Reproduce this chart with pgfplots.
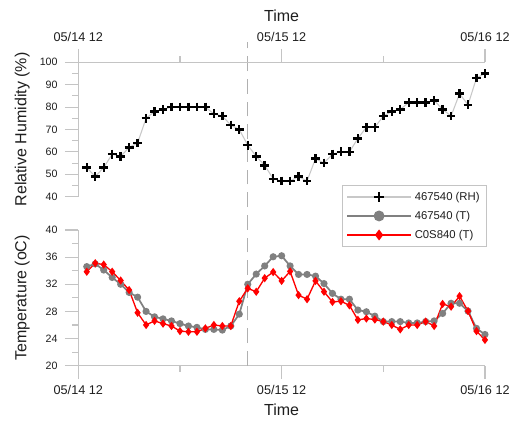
\documentclass[border=0pt]{standalone}
\usepackage{pgfplots}
\pgfplotsset{compat=1.18}
\usepackage{pgfplotstable}
\usepackage{fontspec}
\setmainfont{Liberation Sans}
\definecolor{axgray}{HTML}{C4C4C4}
\definecolor{rhline}{HTML}{C8C8C8}
\definecolor{tgray}{HTML}{808080}
\definecolor{txt}{HTML}{1E1E1E}

\pgfplotstableread{
h rh
1 53
2 49
3 53
4 59
5 58
6 62
7 64
8 75
9 78
10 79
11 80
12 80
13 80
14 80
15 80
16 77
17 76
18 72
19 70
20 63
21 58
22 54
23 48
24 47
25 47
26 49
27 47
28 57
29 55
30 59
31 60
32 60
33 66
34 71
35 71
36 76
37 78
38 79
39 82
40 82
41 82
42 83
43 79
44 76
45 86
46 81
47 93
48 95
}\rhdata

\pgfplotstableread{
h t
1 34.6
2 35.0
3 34.1
4 33.0
5 32.0
6 30.8
7 30.1
8 28.0
9 27.2
10 26.9
11 26.6
12 26.2
13 25.85
14 25.65
15 25.35
16 25.35
17 25.25
18 25.85
19 27.6
20 32.0
21 33.5
22 34.7
23 36.05
24 36.2
25 34.7
26 33.45
27 33.45
28 33.2
29 32.1
30 30.65
31 29.8
32 29.8
33 28.2
34 27.95
35 27.3
36 26.5
37 26.5
38 26.5
39 26.3
40 26.3
41 26.5
42 26.6
43 27.7
44 29.2
45 29.2
46 28.05
47 25.5
48 24.6
}\graydata

\pgfplotstableread{
h t
1 33.85
2 35.1
3 34.9
4 33.85
5 32.55
6 31.15
7 27.8
8 26.0
9 26.6
10 26.2
11 25.85
12 25.1
13 25.0
14 25.0
15 25.5
16 26.0
17 25.85
18 25.85
19 29.5
20 31.4
21 30.9
22 32.9
23 33.8
24 32.5
25 33.9
26 30.4
27 29.8
28 32.5
29 30.9
30 29.4
31 29.5
32 28.9
33 26.75
34 26.95
35 26.8
36 26.5
37 26.0
38 25.35
39 26.0
40 26.0
41 26.5
42 25.85
43 29.1
44 28.7
45 30.25
46 28.05
47 25.1
48 23.8
}\reddata

\pgfplotsset{
  common/.style={
    scale only axis,
    width=305pt,
    xmin=0, xmax=48,
    xtick={0,24,48},
    xticklabels={05/14 12,05/15 12,05/16 12},
    minor xtick={12,36},
    tick align=outside,
    major tick length=10pt,
    minor tick length=4.5pt,
    every tick/.style={axgray, line width=0.8pt},
    axis line style={axgray, line width=0.8pt},
    tick label style={text=txt},
    xticklabel style={font=\fontsize{9.5}{11}\selectfont},
    yticklabel style={font=\fontsize{8}{10}\selectfont, xshift=-2pt},
    label style={font=\fontsize{12}{14}\selectfont, text=txt},
    /pgf/number format/assume math mode=true,
    clip=false,
  },
}

\begin{document}
\begin{tikzpicture}
\path[use as bounding box] (0,0) rectangle (392.25pt,315.75pt);

% bottom: temperature
\begin{axis}[common,
  at={(58.725pt,41.475pt)}, anchor=south west,
  height=101.8pt,
  axis x line*=bottom, axis y line*=left,
  xticklabel style={yshift=-1.5pt},
  ymin=20, ymax=40,
  ytick={20,24,28,32,36,40},
  minor ytick={22,26,30,34,38},
  xlabel={Time},
  xlabel style={at={(axis description cs:0.5,-0.326)}, anchor=center},
  ylabel={Temperature (oC)},
  ylabel style={at={(axis description cs:-0.1377,0.5)}, anchor=center},
  legend cell align=left,
  legend style={at={(0.648,1.332)}, anchor=north west, draw=axgray,
    font=\fontsize{8.5}{10}\selectfont, text=txt, row sep=2.6pt,
    inner xsep=3pt, inner ysep=3pt},
  legend image code/.code={\draw[mark repeat=2,mark phase=2,#1] plot coordinates {(0pt,0pt) (24pt,0pt) (48pt,0pt)};},
]
\addplot[forget plot, axgray!90!black, line width=0.8pt, dash pattern=on 11pt off 6pt] coordinates {(20,20) (20,67.7)};
\addplot[forget plot, tgray, line width=1.3pt, mark=*, mark size=2pt, mark options={fill=tgray, draw=tgray}] table[x=h,y=t] {\graydata};
\addplot[forget plot, red, line width=1pt, mark=diamond*, mark size=2.3pt, mark options={fill=red, draw=red}] table[x=h,y=t] {\reddata};
\addlegendimage{rhline, line width=0.9pt, mark=+, mark size=3.5pt, mark options={black, line width=1.8pt}}
\addlegendentry{467540 (RH)}
\addlegendimage{tgray, line width=1.5pt, mark=*, mark size=3.3pt, mark options={fill=tgray, draw=tgray}}
\addlegendentry{467540 (T)}
\addlegendimage{red, line width=1pt, mark=diamond*, mark size=3.3pt, mark options={fill=red, draw=red}}
\addlegendentry{C0S840 (T)}
\end{axis}

% top: relative humidity
\begin{axis}[common,
  at={(58.725pt,168.225pt)}, anchor=south west,
  height=100.8pt,
  axis x line*=top, axis y line*=left,
  xticklabel pos=right,
  xticklabel style={yshift=2pt},
  ymin=40, ymax=100,
  ytick={40,50,60,70,80,90,100},
  minor ytick={45,55,65,75,85,95},
  xlabel={Time},
  xlabel style={at={(axis description cs:0.5,1.344)}, anchor=center},
  ylabel={Relative Humidity (\%)},
  ylabel style={at={(axis description cs:-0.1377,0.5)}, anchor=center},
]
\addplot[rhline, line width=0.8pt, mark=+, mark size=3.3pt, mark options={black, line width=1.8pt}] table[x=h,y=rh] {\rhdata};
\end{axis}
\end{tikzpicture}
\end{document}
